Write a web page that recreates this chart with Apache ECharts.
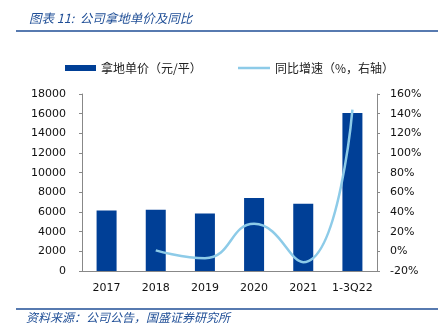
<!DOCTYPE html>
<html><head><meta charset="utf-8">
<script src="https://cdn.jsdelivr.net/npm/echarts@6/dist/echarts.min.js"></script>
<style>html,body{margin:0;padding:0;background:#fff}#c{width:443px;height:335px}</style>
</head><body><div id="c"></div>
<script>
const categories = ['2017','2018','2019','2020','2021','1-3Q22'];
const landPrice = [6160, 6220, 5860, 7420, 6840, 16060];
const yoyGrowth = ['-', 1, -7, 28, -11, 144];
const leftTicks = {min: 0, max: 18000, interval: 2000};
const rightTicks = {min: -20, max: 160, interval: 20};

const chart = echarts.init(document.getElementById('c'), null, {renderer: 'canvas'});
const numFont = 'DejaVu Sans';
const cjkFont = '"Noto Sans CJK SC", sans-serif';
const legendText = {fontFamily: cjkFont, fontSize: 12, color: '#222'};
chart.setOption({
  animation: false,
  backgroundColor: '#fff',
  title: {
    text: '图表 11:  公司拿地单价及同比',
    left: 24, top: 7,
    textStyle: {fontFamily: cjkFont, fontSize: 12.5, fontStyle: 'italic', fontWeight: 'normal', color: '#1f4e96'}
  },
  graphic: [
    {type: 'line', shape: {x1: 16, y1: 31, x2: 438, y2: 31}, style: {stroke: '#1f4e96', lineWidth: 1.5}},
    {type: 'line', shape: {x1: 16, y1: 309, x2: 438, y2: 309}, style: {stroke: '#1f4e96', lineWidth: 1.5}},
    {type: 'text', left: 26, top: 311, style: {text: '资料来源：公司公告，国盛证券研究所', font: 'italic 12px "Noto Sans CJK SC"', fill: '#1f4e96'}}
  ],
  legend: [
    {left: 60, top: 57, itemWidth: 31, itemHeight: 6, icon: 'rect',
     textStyle: legendText, data: ['拿地单价（元/平）']},
    {left: 233, top: 57, itemWidth: 32, itemHeight: 2.5, icon: 'rect',
     textStyle: legendText, data: ['同比增速（%，右轴）']}
  ],
  grid: {left: 82, right: 66, top: 94, bottom: 64, containLabel: false},
  xAxis: {
    type: 'category', data: categories,
    axisLine: {lineStyle: {color: '#888', width: 1}},
    axisTick: {inside: true, length: 3, lineStyle: {color: '#888'}},
    axisLabel: {interval: 0, fontFamily: numFont, fontSize: 11, color: '#111', margin: 12}
  },
  yAxis: [
    {type: 'value', min: leftTicks.min, max: leftTicks.max, interval: leftTicks.interval,
     axisLine: {show: true, lineStyle: {color: '#888'}},
     axisTick: {show: true, length: 3, lineStyle: {color: '#888'}},
     splitLine: {show: false},
     axisLabel: {fontFamily: numFont, fontSize: 11, color: '#111', margin: 16, formatter: v => String(v)}},
    {type: 'value', min: rightTicks.min, max: rightTicks.max, interval: rightTicks.interval,
     position: 'right',
     axisLine: {show: true, lineStyle: {color: '#888'}},
     axisTick: {show: true, length: 3, lineStyle: {color: '#888'}},
     splitLine: {show: false},
     axisLabel: {fontFamily: numFont, fontSize: 11, color: '#111', margin: 13, formatter: v => v + '%'}}
  ],
  series: [
    {name: '拿地单价（元/平）', type: 'bar', data: landPrice, barWidth: 20,
     itemStyle: {color: '#003f96'}},
    {name: '同比增速（%，右轴）', type: 'line', yAxisIndex: 1, data: yoyGrowth,
     smooth: 0.5, symbol: 'none', connectNulls: false,
     lineStyle: {color: '#8dcbe8', width: 2.5}, itemStyle: {color: '#8dcbe8'}}
  ]
});
</script></body></html>
